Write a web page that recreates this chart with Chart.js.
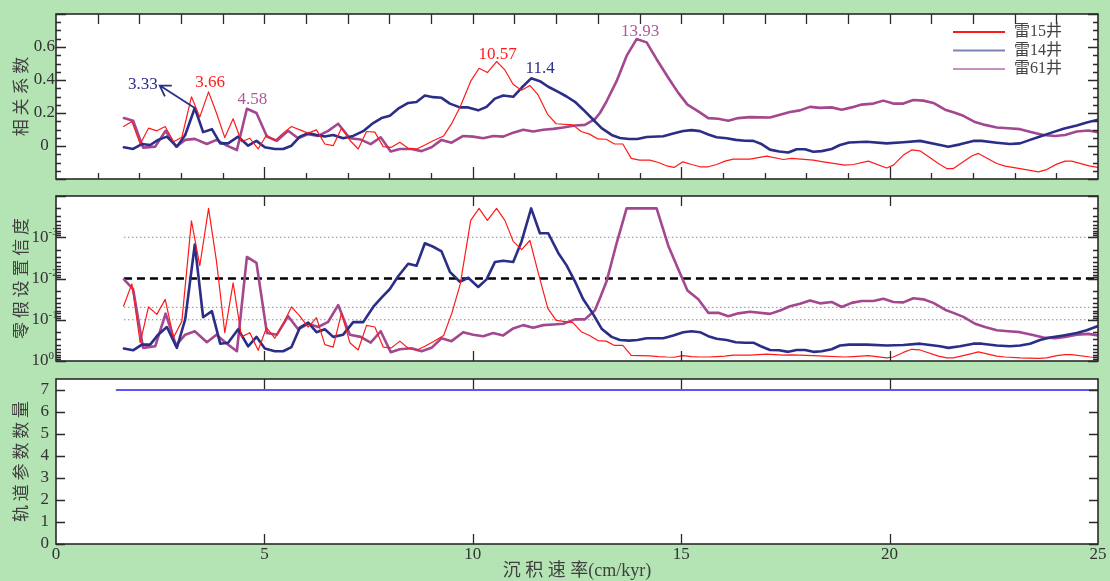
<!DOCTYPE html>
<html>
<head>
<meta charset="utf-8">
<script src="https://cdn.jsdelivr.net/npm/chart.js@4/dist/chart.umd.min.js"></script>
<style>
  html, body { margin: 0; padding: 0; background: #b4e3b4; }
  #wrap { position: relative; width: 1110px; height: 581px; overflow: hidden; }
  #wrap canvas { position: absolute; left: 0; top: 0; }
</style>
</head>
<body>
<div id="wrap">
  <canvas id="corrChart" width="1110" height="581"></canvas>
  <canvas id="pChart" width="1110" height="581"></canvas>
  <canvas id="countChart" width="1110" height="581"></canvas>
</div>
<script>
// ---- sedimentation rate (cm/kyr) and correlation coefficient per well ----
const wellNames = ['雷15井', '雷14井', '雷61井'];

const rate15 = [1.62,1.82,2.02,2.22,2.42,2.62,2.82,3.02,3.25,3.45,3.66,3.85,4.05,4.25,4.45,4.65,4.85,5.05,5.25,5.45,5.65,5.85,6.05,6.25,6.45,6.65,6.85,7.05,7.25,7.45,7.65,7.85,8.05,8.25,8.45,8.65,8.85,9.05,9.3,9.5,9.7,9.95,10.15,10.35,10.57,10.77,10.97,11.17,11.37,11.57,11.8,12.0,12.4,12.6,12.8,13.0,13.2,13.4,13.6,13.8,14.0,14.25,14.45,14.65,14.83,15.04,15.25,15.45,15.65,15.85,16.05,16.25,16.65,16.85,17.05,17.45,17.65,18.17,18.41,18.93,19.13,19.49,19.93,20.09,20.33,20.53,20.73,21.17,21.37,21.53,21.97,22.13,22.57,22.77,23.13,23.57,23.77,24.01,24.21,24.37,24.81,25.0];
const corr15 = [0.118,0.149,0.012,0.108,0.092,0.118,0.026,0.053,0.298,0.175,0.328,0.20,0.051,0.165,0.026,0.047,-0.018,0.067,0.032,0.078,0.118,0.098,0.078,0.098,0.012,0.002,0.108,0.035,-0.018,0.088,0.084,-0.004,-0.008,0.023,-0.014,-0.018,0.006,0.032,0.061,0.139,0.24,0.393,0.471,0.445,0.512,0.461,0.373,0.338,0.367,0.308,0.19,0.135,0.128,0.088,0.072,0.043,0.041,0.012,0.012,-0.075,-0.086,-0.086,-0.1,-0.12,-0.13,-0.096,-0.112,-0.126,-0.126,-0.112,-0.092,-0.08,-0.08,-0.071,-0.061,-0.082,-0.075,-0.086,-0.096,-0.116,-0.112,-0.092,-0.133,-0.116,-0.055,-0.024,-0.029,-0.106,-0.137,-0.137,-0.061,-0.045,-0.106,-0.122,-0.137,-0.157,-0.143,-0.11,-0.092,-0.092,-0.122,-0.13];
const p15 = [0.047,0.0135,0.36,0.049,0.074,0.032,0.27,0.108,0.0004,0.0049,0.0002,0.0038,0.206,0.0127,0.26,0.206,0.55,0.156,0.28,0.125,0.049,0.082,0.151,0.089,0.40,0.46,0.068,0.36,0.54,0.137,0.15,0.46,0.48,0.33,0.49,0.55,0.44,0.34,0.24,0.068,0.0135,0.00039,0.0002,0.00039,0.0002,0.00039,0.00126,0.002,0.0012,0.0073,0.053,0.104,0.118,0.195,0.24,0.32,0.33,0.42,0.42,0.73,0.74,0.75,0.78,0.8,0.81,0.74,0.78,0.8,0.8,0.78,0.76,0.72,0.72,0.7,0.68,0.72,0.71,0.74,0.76,0.8,0.78,0.74,0.84,0.8,0.62,0.52,0.54,0.76,0.84,0.84,0.66,0.6,0.76,0.8,0.84,0.86,0.84,0.74,0.7,0.7,0.8,0.82];

const rate14 = [1.63,1.85,2.06,2.26,2.45,2.66,2.9,3.1,3.33,3.53,3.74,3.94,4.13,4.37,4.61,4.81,5.01,5.25,5.45,5.65,5.85,6.05,6.25,6.45,6.65,6.89,7.13,7.37,7.61,7.81,8.01,8.21,8.45,8.65,8.85,9.05,9.25,9.45,9.69,9.89,10.13,10.33,10.53,10.73,10.97,11.17,11.4,11.61,11.81,12.05,12.25,12.45,12.65,12.89,13.09,13.33,13.53,13.75,13.95,14.17,14.57,14.81,15.05,15.25,15.45,15.65,15.85,16.09,16.31,16.53,16.73,16.91,17.13,17.35,17.57,17.77,17.97,18.17,18.37,18.61,18.81,19.03,19.45,19.93,20.33,20.73,21.21,21.41,21.69,22.01,22.21,22.57,22.89,23.13,23.37,23.61,23.85,24.17,24.49,24.73,25.0];
const corr14 = [-0.008,-0.018,0.012,0.006,0.037,0.057,-0.004,0.067,0.23,0.084,0.102,0.016,0.016,0.057,0.002,0.031,-0.008,-0.018,-0.018,0.002,0.057,0.078,0.067,0.057,0.067,0.047,0.061,0.09,0.139,0.169,0.183,0.226,0.261,0.267,0.306,0.296,0.292,0.257,0.234,0.234,0.216,0.237,0.287,0.306,0.298,0.353,0.41,0.393,0.359,0.328,0.30,0.268,0.22,0.159,0.108,0.067,0.049,0.042,0.042,0.055,0.059,0.076,0.091,0.096,0.09,0.07,0.053,0.047,0.037,0.032,0.031,0.014,-0.022,-0.033,-0.039,-0.02,-0.02,-0.035,-0.031,-0.018,0.006,0.021,0.026,0.016,0.023,0.031,0.006,-0.004,0.01,0.031,0.031,0.02,0.012,0.016,0.037,0.057,0.078,0.104,0.124,0.143,0.159];
const p14 = [0.50,0.55,0.40,0.40,0.23,0.15,0.48,0.098,0.0015,0.087,0.062,0.38,0.36,0.17,0.44,0.26,0.50,0.58,0.58,0.46,0.156,0.118,0.2,0.17,0.26,0.23,0.114,0.114,0.049,0.029,0.018,0.0088,0.0044,0.0049,0.0014,0.0017,0.0022,0.0069,0.012,0.0096,0.016,0.0105,0.004,0.0037,0.004,0.00126,0.0002,0.0008,0.0008,0.0024,0.0048,0.0117,0.032,0.074,0.165,0.26,0.31,0.32,0.31,0.28,0.28,0.24,0.2,0.19,0.2,0.25,0.29,0.31,0.35,0.36,0.36,0.44,0.54,0.55,0.6,0.54,0.54,0.6,0.58,0.52,0.42,0.40,0.40,0.42,0.41,0.38,0.44,0.48,0.44,0.38,0.38,0.42,0.44,0.42,0.38,0.31,0.27,0.24,0.21,0.18,0.142];

const rate61 = [1.63,1.85,2.09,2.38,2.63,2.88,3.1,3.33,3.62,3.85,4.1,4.34,4.58,4.81,5.06,5.3,5.57,5.81,6.05,6.29,6.53,6.77,7.05,7.31,7.55,7.79,8.03,8.25,8.53,8.77,9.01,9.25,9.49,9.77,10.01,10.25,10.49,10.73,10.97,11.21,11.45,11.69,11.93,12.17,12.45,12.69,12.93,13.05,13.21,13.45,13.69,13.93,14.17,14.41,14.69,14.93,15.15,15.41,15.65,15.89,16.13,16.37,16.65,17.13,17.37,17.61,17.85,18.09,18.33,18.61,18.85,19.09,19.33,19.61,19.85,20.09,20.33,20.57,20.81,21.05,21.33,21.53,21.77,22.05,22.29,22.57,22.85,23.13,23.41,23.69,23.97,24.21,24.49,24.77,25.0];
const corr61 = [0.169,0.153,-0.01,-0.004,0.092,-0.004,0.037,0.043,0.012,0.037,0.002,-0.024,0.226,0.2,0.057,0.032,0.092,0.047,0.072,0.061,0.092,0.135,0.047,0.039,0.011,0.053,-0.033,-0.018,-0.018,-0.031,-0.008,0.037,0.02,0.061,0.057,0.047,0.061,0.057,0.081,0.098,0.088,0.098,0.104,0.112,0.124,0.128,0.163,0.2,0.271,0.393,0.546,0.648,0.628,0.526,0.414,0.322,0.251,0.21,0.169,0.165,0.153,0.169,0.175,0.173,0.19,0.206,0.216,0.237,0.231,0.234,0.22,0.234,0.251,0.257,0.275,0.257,0.257,0.279,0.275,0.261,0.22,0.204,0.183,0.145,0.128,0.112,0.108,0.102,0.084,0.067,0.061,0.067,0.088,0.094,0.084];
const p61 = [0.0105,0.018,0.48,0.44,0.071,0.42,0.23,0.19,0.35,0.23,0.38,0.58,0.003,0.0042,0.21,0.23,0.082,0.17,0.125,0.15,0.112,0.044,0.23,0.26,0.36,0.19,0.61,0.52,0.49,0.58,0.48,0.28,0.33,0.2,0.23,0.25,0.21,0.24,0.162,0.135,0.156,0.135,0.13,0.125,0.098,0.098,0.059,0.03,0.0117,0.0014,0.0002,0.0002,0.0002,0.0002,0.0016,0.006,0.0195,0.032,0.068,0.068,0.082,0.07,0.064,0.072,0.06,0.047,0.041,0.034,0.040,0.037,0.049,0.039,0.035,0.035,0.031,0.037,0.038,0.030,0.032,0.039,0.057,0.068,0.085,0.125,0.15,0.18,0.19,0.2,0.23,0.27,0.28,0.26,0.23,0.22,0.24];

// confidence thresholds for the null hypothesis
const sigLevels = [0.001, 0.01, 0.05, 0.1];
const sigSpan = [1.63, 25];

// number of orbital parameters
const countRate = [1.45, 25];
const countValue = [7, 7];

// labelled correlation peaks: which well and at what rate
const peakNotes = [
  { well: 1, rate: 3.33, dx: -52, dy: -24, arrow: [-35, -22.5] },
  { well: 0, rate: 3.66, dx: 1.5, dy: -9.5 },
  { well: 2, rate: 4.58, dx: 5.5, dy: -9 },
  { well: 0, rate: 10.57, dx: 1, dy: -7 },
  { well: 1, rate: 11.4, dx: 9, dy: -9.5 },
  { well: 2, rate: 13.93, dx: 3.5, dy: -7.5 }
];

// axis ticks
const rateTicks = [0, 5, 10, 15, 20, 25];
const rateTickText = ['0', '5', '10', '15', '20', '25'];
const corrTicks = [0, 0.2, 0.4, 0.6];
const corrTickText = ['0', '0.2', '0.4', '0.6'];
const pTicks = [1, 0.1, 0.01, 0.001];
const pTickBase = '10';
const pTickExp = ['0', '-1', '-2', '-3'];
const countTicks = [0, 1, 2, 3, 4, 5, 6, 7];
const countTickText = ['0', '1', '2', '3', '4', '5', '6', '7'];

// ---- styling ----
const RED = '#ff1a1a';
const NAVY = '#2b2e86';
const PLUM = '#a3478e';
const BLUE = '#2020ff';
const INK = '#2a2a2a';
const TEXT = '#333333';
const TITLE = '#3f3f3f';
const SERIF = '"Liberation Serif", "Noto Sans CJK SC", serif';
const CJK = '"Noto Sans CJK SC", "Liberation Serif", sans-serif';

Chart.defaults.font.family = SERIF;
Chart.defaults.color = TEXT;

const pts = (xs, ys) => xs.map((x, i) => ({ x, y: ys[i] }));
const wellColors = [RED, NAVY, PLUM];
const wellWidths = [1.2, 2.6, 2.6];
const wellRates = [rate15, rate14, rate61];

// white plot area, frame and inward tick marks
function framePlugin(xTicks, yTicks) {
  return {
    id: 'frame',
    beforeDraw(chart) {
      const { ctx, chartArea: a } = chart;
      ctx.save();
      ctx.fillStyle = '#ffffff';
      ctx.fillRect(a.left, a.top, a.right - a.left, a.bottom - a.top);
      ctx.restore();
    },
    afterDatasetsDraw(chart) {
      const { ctx, chartArea: a } = chart;
      const xs = chart.scales.x, ys = chart.scales.y;
      ctx.save();
      ctx.strokeStyle = INK;
      ctx.lineWidth = 1.3;
      ctx.beginPath();
      for (const t of xTicks) {
        const p = Math.round(xs.getPixelForValue(t.v)) + 0.5;
        if (t.top) { ctx.moveTo(p, a.top); ctx.lineTo(p, a.top + t.top); }
        if (t.bottom) { ctx.moveTo(p, a.bottom); ctx.lineTo(p, a.bottom - t.bottom); }
      }
      for (const t of yTicks) {
        const p = Math.round(ys.getPixelForValue(t.v)) + 0.5;
        ctx.moveTo(a.left, p); ctx.lineTo(a.left + t.len, p);
        ctx.moveTo(a.right, p); ctx.lineTo(a.right - t.len, p);
      }
      ctx.stroke();
      ctx.lineWidth = 1.6;
      ctx.strokeRect(a.left, a.top, a.right - a.left, a.bottom - a.top);
      ctx.restore();
    }
  };
}

function fixedTicks(values) {
  return (scale) => { scale.ticks = values.map(v => ({ value: v })); };
}

function yAxis(extra) {
  return Object.assign({
    grid: { display: false, drawTicks: false },
    border: { display: false },
    afterFit: (s) => { s.width = 56; }
  }, extra);
}

function yTitle(text) {
  return { display: true, text, color: TITLE, font: { family: CJK, size: 17 }, padding: { top: 10, bottom: 0 } };
}

const baseOptions = {
  responsive: false,
  animation: false,
  devicePixelRatio: 1,
  events: [],
  elements: { point: { radius: 0 }, line: { tension: 0, borderJoinStyle: 'round', borderCapStyle: 'round' } }
};

// ---------- panel 1: correlation coefficient ----------
const corrXTicks = [];
for (let v = 1; v < 25; v++) corrXTicks.push({ v, top: 10, bottom: v % 5 === 0 ? 12 : 6 });
const corrYTicks = [];
for (let k = -4; k <= 16; k++) corrYTicks.push({ v: k * 0.05, len: k % 4 === 0 ? 10 : 5 });

const notesPlugin = {
  id: 'peakNotes',
  afterDatasetsDraw(chart) {
    const ctx = chart.ctx;
    ctx.save();
    ctx.font = '17px ' + SERIF;
    ctx.textAlign = 'center';
    ctx.textBaseline = 'middle';
    for (const n of peakNotes) {
      const idx = wellRates[n.well].indexOf(n.rate);
      const el = chart.getDatasetMeta(n.well).data[idx];
      const color = wellColors[n.well];
      ctx.fillStyle = n.well === 2 ? '#b0589c' : color;
      ctx.fillText(String(n.rate), el.x + n.dx, el.y + n.dy);
      if (n.arrow) {
        const tx = el.x + n.arrow[0], ty = el.y + n.arrow[1];
        const ang = Math.atan2(el.y - ty, el.x - tx);
        ctx.strokeStyle = color;
        ctx.lineWidth = 1.8;
        ctx.beginPath();
        ctx.moveTo(el.x, el.y); ctx.lineTo(tx, ty);
        ctx.moveTo(tx + 12 * Math.cos(ang - 0.56), ty + 12 * Math.sin(ang - 0.56));
        ctx.lineTo(tx, ty);
        ctx.lineTo(tx + 12 * Math.cos(ang + 0.56), ty + 12 * Math.sin(ang + 0.56));
        ctx.stroke();
      }
    }
    ctx.restore();
  }
};

const legendPlugin = {
  id: 'wellLegend',
  afterDatasetsDraw(chart) {
    const { ctx, chartArea: a } = chart;
    ctx.save();
    ctx.font = '16px ' + SERIF;
    ctx.textBaseline = 'middle';
    ctx.textAlign = 'left';
    chart.data.datasets.forEach((ds, i) => {
      const y = a.top + 18 + i * 18.5;
      ctx.strokeStyle = ds.borderColor;
      ctx.globalAlpha = i === 0 ? 1 : 0.6;
      ctx.lineWidth = 2;
      ctx.beginPath();
      ctx.moveTo(a.right - 145, y); ctx.lineTo(a.right - 93, y);
      ctx.stroke();
      ctx.globalAlpha = 1;
      ctx.fillStyle = '#444444';
      ctx.fillText(ds.label, a.right - 84, y);
    });
    ctx.restore();
  }
};

new Chart(document.getElementById('corrChart'), {
  type: 'line',
  data: {
    datasets: [0, 1, 2].map(i => ({
      label: wellNames[i],
      data: pts(wellRates[i], [corr15, corr14, corr61][i]),
      borderColor: wellColors[i],
      borderWidth: wellWidths[i]
    }))
  },
  options: Object.assign({}, baseOptions, {
    layout: { padding: { top: 14, bottom: 402, left: 0, right: 12 } },
    plugins: { legend: { display: false }, tooltip: { enabled: false } },
    scales: {
      x: { type: 'linear', min: 0, max: 25, display: false },
      y: yAxis({
        type: 'linear', min: -0.2, max: 0.8,
        afterBuildTicks: fixedTicks(corrTicks),
        ticks: { callback: (v, i) => corrTickText[i], font: { size: 17 }, color: TEXT, crossAlign: 'center', padding: 1 },
        title: yTitle('相 关 系 数')
      })
    }
  }),
  plugins: [framePlugin(corrXTicks, corrYTicks), notesPlugin, legendPlugin]
});

// ---------- panel 2: confidence of the null hypothesis ----------
const pXTicks = [5, 10, 15, 20].map(v => ({ v, top: 10, bottom: 10 }));
const pYTicks = [];
for (let e = -4; e <= 0; e++) {
  pYTicks.push({ v: Math.pow(10, e), len: 10 });
  if (e < 0) for (let m = 2; m <= 9; m++) pYTicks.push({ v: m * Math.pow(10, e), len: 5 });
}

const sigStyles = {
  0.001: { color: '#8c8c8c', width: 1, dash: [1.5, 2.5] },
  0.01: { color: '#000000', width: 2.4, dash: [8, 5] },
  0.05: { color: '#8c8c8c', width: 1, dash: [1.5, 2.5] },
  0.1: { color: '#8c8c8c', width: 1, dash: [1.5, 2.5] }
};

// power-of-ten tick labels with a raised exponent
const powerLabels = {
  id: 'powerLabels',
  afterDraw(chart) {
    const { ctx } = chart;
    const ys = chart.scales.y;
    ctx.save();
    ctx.fillStyle = TEXT;
    ctx.textBaseline = 'middle';
    pTicks.forEach((v, i) => {
      const y = ys.getPixelForValue(v);
      ctx.font = '17px ' + SERIF;
      ctx.textAlign = 'right';
      ctx.fillText(pTickBase, 48.5, y);
      ctx.font = '11px ' + SERIF;
      ctx.textAlign = 'left';
      ctx.fillText(pTickExp[i], 48.5, y - 5);
    });
    ctx.restore();
  }
};

new Chart(document.getElementById('pChart'), {
  type: 'line',
  data: {
    datasets: [0, 1, 2].map(i => ({
      label: wellNames[i],
      data: pts(wellRates[i], [p15, p14, p61][i]),
      borderColor: wellColors[i],
      borderWidth: wellWidths[i]
    })).concat(sigLevels.map(level => ({
      label: String(level),
      data: pts(sigSpan, [level, level]),
      borderColor: sigStyles[level].color,
      borderWidth: sigStyles[level].width,
      borderDash: sigStyles[level].dash,
      borderCapStyle: 'butt'
    })))
  },
  options: Object.assign({}, baseOptions, {
    layout: { padding: { top: 196, bottom: 220, left: 0, right: 12 } },
    plugins: { legend: { display: false }, tooltip: { enabled: false } },
    scales: {
      x: { type: 'linear', min: 0, max: 25, display: false },
      y: yAxis({
        type: 'logarithmic', min: 0.0001, max: 1, reverse: true,
        afterBuildTicks: fixedTicks(pTicks),
        ticks: { display: false },
        title: yTitle('零 假 设 置 信 度')
      })
    }
  }),
  plugins: [framePlugin(pXTicks, pYTicks), powerLabels]
});

// ---------- panel 3: number of orbital parameters ----------
const cXTicks = [5, 10, 15, 20].map(v => ({ v, top: 10, bottom: 10 }));
const cYTicks = countTicks.map(v => ({ v, len: 9 }));

new Chart(document.getElementById('countChart'), {
  type: 'line',
  data: {
    datasets: [{
      label: '轨道参数数量',
      data: pts(countRate, countValue),
      borderColor: BLUE,
      borderWidth: 1.5
    }]
  },
  options: Object.assign({}, baseOptions, {
    layout: { padding: { top: 379, bottom: 0, left: 0, right: 12 } },
    plugins: { legend: { display: false }, tooltip: { enabled: false } },
    scales: {
      x: {
        type: 'linear', min: 0, max: 25,
        grid: { display: false, drawTicks: false },
        border: { display: false },
        afterBuildTicks: fixedTicks(rateTicks),
        afterFit: (s) => { s.height = 37; },
        ticks: { callback: (v, i) => rateTickText[i], font: { size: 17 }, color: TEXT, padding: 0, maxRotation: 0, autoSkip: false },
        title: { display: true, text: '沉 积 速 率(cm/kyr)', color: TITLE, font: { family: SERIF, size: 18 }, padding: { top: 0, bottom: -1 } }
      },
      y: yAxis({
        type: 'linear', min: 0, max: 7.5,
        afterBuildTicks: fixedTicks(countTicks),
        ticks: { callback: (v, i) => countTickText[i], font: { size: 17 }, color: TEXT, crossAlign: 'center', padding: 7 },
        title: yTitle('轨 道 参 数 数 量')
      })
    }
  }),
  plugins: [framePlugin(cXTicks, cYTicks)]
});
</script>
</body>
</html>
